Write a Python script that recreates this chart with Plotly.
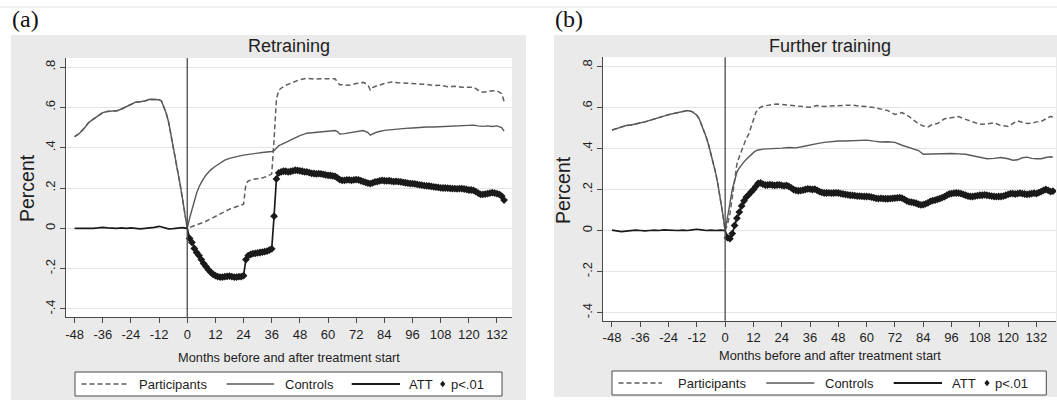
import plotly.graph_objects as go

W, H = 1057, 401

# ---------------- data ----------------
TICK_MONTHS = [-48, -36, -24, -12, 0, 12, 24, 36, 48, 60, 72, 84, 96, 108, 120, 132]
TICK_LABELS = ["-48", "-36", "-24", "-12", "0", "12", "24", "36", "48", "60", "72", "84",
               "96", "108", "120", "132"]
Y_TICKS = [-0.4, -0.2, 0, 0.2, 0.4, 0.6, 0.8]
Y_TICK_LABELS = ["-.4", "-.2", "0", ".2", ".4", ".6", ".8"]
PANEL_TITLES = ["Retraining", "Further training"]
PANEL_TAGS = ["(a)", "(b)"]
LEGEND_LABELS = ["Participants", "Controls", "ATT", "p<.01"]
X_TITLE = "Months before and after treatment start"
Y_TITLE = "Percent"

PRE_MONTHS = [-48, -46, -44, -42, -40, -38, -36, -34, -32, -30, -28, -26, -24, -22, -20,
              -18, -16, -14, -12, -11, -10, -9, -8, -7, -6, -5, -4, -3, -2, -1, 0]
ATT_PRE_MONTHS = [-48, -46, -44, -42, -40, -38, -36, -34, -32, -30, -28, -26, -24,
                  -22, -20, -18, -16, -14, -12, -10, -8, -6, -4, -2, 0]

# Panel (a) Retraining
A_PRE_LEVEL = [0.455, 0.47, 0.495, 0.525, 0.542, 0.557, 0.574, 0.58, 0.58, 0.583, 0.592, 0.602,
               0.612, 0.626, 0.628, 0.632, 0.64, 0.64, 0.638, 0.632, 0.605, 0.572, 0.53, 0.47,
               0.415, 0.35, 0.285, 0.215, 0.145, 0.072, 0.0]
A_POST_MONTHS = [1, 2, 3, 4, 5, 6, 8, 10, 12, 14, 16, 18, 20, 22, 24, 25, 26, 28, 30, 32, 34, 36,
                 37, 38, 39, 40, 42, 44, 46, 48, 51, 54, 57, 60, 63, 64, 65, 67, 69, 72, 75, 77,
                 78, 79, 81, 84, 87, 90, 93, 96, 99, 102, 105, 108, 111, 114, 117, 120, 122, 124,
                 126, 128, 130, 132, 134, 135]
A_PART_POST = [0.004, 0.008, 0.012, 0.016, 0.02, 0.025, 0.035, 0.047, 0.06, 0.07, 0.082, 0.095,
               0.103, 0.11, 0.12, 0.22, 0.235, 0.243, 0.245, 0.25, 0.258, 0.27,
               0.44, 0.64, 0.685, 0.695, 0.71, 0.72, 0.73, 0.738, 0.745, 0.74, 0.742, 0.743, 0.742,
               0.725, 0.712, 0.712, 0.71, 0.718, 0.724, 0.712, 0.686, 0.698,
               0.708, 0.718, 0.726, 0.722, 0.72, 0.72, 0.716, 0.714, 0.708, 0.71, 0.702, 0.705,
               0.7, 0.702, 0.7, 0.685, 0.675, 0.678, 0.682, 0.682, 0.668, 0.63]
A_CTRL_POST = [0.05, 0.095, 0.135, 0.175, 0.205, 0.228, 0.265, 0.29, 0.308, 0.325, 0.338, 0.347,
               0.354, 0.358, 0.363, 0.365, 0.368, 0.37, 0.373, 0.376, 0.378, 0.381,
               0.385, 0.398, 0.41, 0.415, 0.427, 0.44, 0.452, 0.46, 0.472, 0.476, 0.48, 0.482, 0.485,
               0.48, 0.468, 0.47, 0.474, 0.478, 0.485, 0.475, 0.462, 0.468,
               0.478, 0.486, 0.49, 0.492, 0.496, 0.498, 0.502, 0.503, 0.503, 0.505, 0.506, 0.507,
               0.508, 0.51, 0.512, 0.508, 0.506, 0.508, 0.505, 0.508, 0.5, 0.482]
A_ATT_PRE = [0.0, 0.0, -0.002, -0.003, 0.0, 0.002, 0.005, 0.002, 0.0, 0.0, 0.002, 0.0, 0.002,
             0.0, -0.003, 0.0, 0.002, 0.005, 0.01, 0.003, -0.003, -0.002, 0.0, 0.003, 0.0]
A_ATT_POST = [  # months 1..135
    -0.05, -0.07, -0.10, -0.12, -0.135, -0.155, -0.175, -0.19, -0.205, -0.218,
    -0.228, -0.235, -0.24, -0.242, -0.242, -0.24, -0.238, -0.237, -0.24, -0.242,
    -0.242, -0.24, -0.24, -0.235, -0.155, -0.135, -0.13, -0.126, -0.124, -0.122,
    -0.12, -0.118, -0.116, -0.113, -0.108, -0.102, 0.06, 0.245, 0.275, 0.28,
    0.283, 0.283, 0.28, 0.282, 0.285, 0.288, 0.287, 0.285, 0.283, 0.28,
    0.28, 0.276, 0.273, 0.272, 0.27, 0.271, 0.27, 0.268, 0.265, 0.263,
    0.262, 0.26, 0.258, 0.25, 0.242, 0.238, 0.238, 0.24, 0.24, 0.238,
    0.24, 0.242, 0.24, 0.236, 0.232, 0.228, 0.224, 0.222, 0.225, 0.23,
    0.232, 0.235, 0.238, 0.236, 0.235, 0.236, 0.234, 0.232, 0.233, 0.232,
    0.23, 0.228, 0.226, 0.224, 0.222, 0.222, 0.22, 0.218, 0.216, 0.214,
    0.212, 0.211, 0.21, 0.208, 0.206, 0.204, 0.203, 0.201, 0.2, 0.2,
    0.199, 0.198, 0.197, 0.197, 0.196, 0.197, 0.197, 0.195, 0.193, 0.19,
    0.19, 0.188, 0.182, 0.175, 0.168, 0.168, 0.17, 0.172, 0.175, 0.177,
    0.175, 0.172, 0.168, 0.16, 0.14]
A_SIG_FIRST, A_SIG_LAST = 1, 135

# Panel (b) Further training
B_PRE_LEVEL = [0.49, 0.497, 0.505, 0.512, 0.515, 0.519, 0.523, 0.53, 0.537, 0.545, 0.552, 0.558,
               0.565, 0.57, 0.576, 0.581, 0.585, 0.58, 0.562, 0.545, 0.518, 0.49, 0.455, 0.417,
               0.375, 0.333, 0.28, 0.22, 0.158, 0.08, 0.0]
B_POST_MONTHS = [1, 2, 3, 4, 5, 6, 7, 8, 9, 10, 11, 12, 13, 14, 16, 18, 20, 22, 24, 27, 30, 33,
                 36, 39, 42, 45, 48, 51, 54, 57, 60, 63, 66, 69, 72, 75, 78, 80, 82, 84, 86, 88,
                 90, 93, 96, 99, 102, 105, 108, 111, 114, 117, 120, 122, 124, 126, 128, 130, 132,
                 134, 136, 138, 139]
B_PART_POST = [0.03, 0.08, 0.16, 0.25, 0.325, 0.36, 0.39, 0.425, 0.45, 0.47, 0.5, 0.54, 0.575, 0.595,
               0.606, 0.612, 0.615, 0.617, 0.615,
               0.612, 0.606, 0.603, 0.601, 0.61, 0.605, 0.608, 0.61,
               0.612, 0.612, 0.606, 0.605, 0.6, 0.593, 0.585, 0.566, 0.575, 0.556,
               0.536, 0.52, 0.51, 0.505, 0.518, 0.522,
               0.545, 0.55, 0.556, 0.542, 0.53, 0.518, 0.52, 0.525, 0.512, 0.508,
               0.522, 0.535, 0.528, 0.522, 0.524, 0.53, 0.532, 0.545, 0.557, 0.552]
B_CTRL_POST = [0.06, 0.13, 0.2, 0.25, 0.285, 0.305, 0.322, 0.335, 0.348, 0.36, 0.37, 0.38, 0.388, 0.393,
               0.397, 0.398, 0.397, 0.398, 0.402,
               0.405, 0.403, 0.41, 0.418, 0.424, 0.43, 0.435, 0.437,
               0.437, 0.438, 0.44, 0.441, 0.436, 0.432, 0.433, 0.43, 0.416, 0.405,
               0.4, 0.39, 0.372, 0.373, 0.375, 0.376,
               0.378, 0.376, 0.374, 0.372, 0.365, 0.358, 0.35, 0.352, 0.356, 0.35,
               0.343, 0.345, 0.355, 0.358, 0.352, 0.35, 0.35, 0.356, 0.36, 0.358]
B_ATT_PRE = [0.002, 0.0, -0.005, -0.003, 0.0, 0.002, 0.0, -0.002, 0.0, 0.002, 0.0, 0.003, 0.002,
             0.0, 0.0, 0.002, 0.0, 0.003, 0.006, 0.003, 0.0, 0.002, 0.0, 0.002, 0.0]
B_ATT_POST = [  # months 1..139
    -0.035, -0.04, -0.015, 0.025, 0.06, 0.09, 0.12, 0.145, 0.163, 0.175,
    0.188, 0.2, 0.215, 0.23, 0.232, 0.226, 0.222, 0.222, 0.224, 0.222,
    0.22, 0.222, 0.223, 0.22, 0.218, 0.22, 0.215, 0.208, 0.2, 0.196,
    0.194, 0.195, 0.197, 0.2, 0.203, 0.202, 0.2, 0.202, 0.196, 0.19,
    0.186, 0.183, 0.183, 0.184, 0.182, 0.183, 0.184, 0.183, 0.18, 0.178,
    0.176, 0.174, 0.172, 0.171, 0.17, 0.168, 0.168, 0.167, 0.166, 0.166,
    0.165, 0.163, 0.16, 0.157, 0.156, 0.157, 0.156, 0.155, 0.155, 0.156,
    0.157, 0.158, 0.159, 0.16, 0.158, 0.152, 0.145, 0.14, 0.138, 0.136,
    0.133, 0.128, 0.125, 0.126, 0.13, 0.135, 0.142, 0.146, 0.148, 0.152,
    0.156, 0.16, 0.165, 0.172, 0.178, 0.18, 0.182, 0.183, 0.182, 0.18,
    0.176, 0.172, 0.168, 0.166, 0.166, 0.168, 0.17, 0.172, 0.172, 0.174,
    0.172, 0.17, 0.168, 0.166, 0.165, 0.166, 0.166, 0.168, 0.172, 0.176,
    0.18, 0.18, 0.178, 0.18, 0.182, 0.18, 0.178, 0.176, 0.178, 0.18,
    0.182, 0.18, 0.185, 0.19, 0.196, 0.2, 0.196, 0.19, 0.192]
B_SIG_FIRST, B_SIG_LAST = 1, 139

# ---------------- styling / geometry ----------------
FONT = "Liberation Sans, Arial, Helvetica, sans-serif"
SERIF = "Liberation Serif, Times New Roman, serif"
BG_GRAY = "#eaeaea"
GRID = "#e4e4e4"
AXIS = "#4a4a4a"
TXT = "#1e1e1e"
PART_COLOR = "#5f5f5f"
CTRL_COLOR = "#595959"
ATT_COLOR = "#1a1a1a"

PANELS = [
    dict(gray=(11, 35, 526, 400), plot=(65.7, 58, 512, 317), xr=(-51.8, 138.4),
         title_y=46, tag=(10, 19), xt_y=357, yt=(27, 188),
         box=(75, 372, 502, 396),
         items=[(81.5, 128.5, 136.7), (226.7, 274, 282.7), (351.7, 400, 407), (442.7, None, 448.5)]),
    dict(gray=(554, 35, 1060, 397), plot=(603, 57.3, 1056, 320.7), xr=(-51.8, 140.3),
         title_y=46, tag=(553, 19), xt_y=355, yt=(563, 190),
         box=(612, 371, 1046.3, 395),
         items=[(618.5, 662, 676), (766.3, 814.3, 823), (893.7, 942, 949.7), (987, None, 992.5)]),
]
Y_RANGE = (-0.44, 0.845)


def fx(x):
    return x / W


def fy(y):
    return 1 - y / H


fig = go.Figure()
shapes = []
annotations = []

# faint rule at the very top
shapes.append(dict(type="line", xref="paper", yref="paper", x0=0, x1=1, y0=fy(7), y1=fy(7),
                   line=dict(color="#e2e2e2", width=1), layer="below"))

datasets = [
    (A_PRE_LEVEL, A_POST_MONTHS, A_PART_POST, A_CTRL_POST, A_ATT_PRE, A_ATT_POST, A_SIG_FIRST, A_SIG_LAST),
    (B_PRE_LEVEL, B_POST_MONTHS, B_PART_POST, B_CTRL_POST, B_ATT_PRE, B_ATT_POST, B_SIG_FIRST, B_SIG_LAST),
]

for i, (g, d) in enumerate(zip(PANELS, datasets)):
    pre_level, post_m, part_post, ctrl_post, att_pre, att_post, s0, s1 = d
    sfx = "" if i == 0 else str(i + 1)
    xa, ya = "x" + sfx, "y" + sfx

    gx0, gy0, gx1, gy1 = g["gray"]
    shapes.append(dict(type="rect", xref="paper", yref="paper", x0=fx(gx0), x1=fx(gx1),
                       y0=fy(gy1), y1=fy(gy0), fillcolor=BG_GRAY, line=dict(width=0), layer="below"))
    px0, py0, px1, py1 = g["plot"]
    shapes.append(dict(type="rect", xref="paper", yref="paper", x0=fx(px0), x1=fx(px1),
                       y0=fy(py1), y1=fy(py0), fillcolor="white", line=dict(width=0), layer="below"))

    # traces
    att_post_m = list(range(1, len(att_post) + 1))
    fig.add_trace(go.Scatter(x=PRE_MONTHS + post_m, y=pre_level + part_post, mode="lines",
                             line=dict(color=PART_COLOR, width=1.5, dash="5px,3px"),
                             xaxis=xa, yaxis=ya, showlegend=False, hoverinfo="skip"))
    fig.add_trace(go.Scatter(x=PRE_MONTHS + post_m, y=pre_level + ctrl_post, mode="lines",
                             line=dict(color=CTRL_COLOR, width=1.4),
                             xaxis=xa, yaxis=ya, showlegend=False, hoverinfo="skip"))
    fig.add_trace(go.Scatter(x=ATT_PRE_MONTHS + att_post_m, y=att_pre + att_post, mode="lines",
                             line=dict(color=ATT_COLOR, width=1.7),
                             xaxis=xa, yaxis=ya, showlegend=False, hoverinfo="skip"))
    sig_x = [m for m in att_post_m if s0 <= m <= s1]
    sig_y = [att_post[m - 1] for m in sig_x]
    fig.add_trace(go.Scatter(x=sig_x, y=sig_y, mode="markers",
                             marker=dict(symbol="diamond", size=6, color=ATT_COLOR, line=dict(width=0)),
                             xaxis=xa, yaxis=ya, showlegend=False, hoverinfo="skip"))

    # reference line at month 0
    shapes.append(dict(type="line", xref=xa, yref=ya + " domain", x0=0, x1=0, y0=0, y1=1,
                       line=dict(color=AXIS, width=1.3)))

    fig.update_layout(**{
        "xaxis" + sfx: dict(domain=[fx(px0), fx(px1)], range=list(g["xr"]), anchor=ya,
                            tickvals=TICK_MONTHS, ticktext=TICK_LABELS, ticks="outside",
                            ticklen=5, tickwidth=1,
                            tickcolor=AXIS, showline=True, linecolor=AXIS, linewidth=1,
                            showgrid=False, zeroline=False, fixedrange=True,
                            tickfont=dict(family=FONT, size=13, color=TXT)),
        "yaxis" + sfx: dict(domain=[fy(py1), fy(py0)], range=list(Y_RANGE), anchor=xa,
                            tickvals=Y_TICKS, ticktext=Y_TICK_LABELS, tickangle=-90,
                            ticks="outside", ticklen=5, tickwidth=1, tickcolor=AXIS,
                            showline=True, linecolor=AXIS, linewidth=1,
                            showgrid=True, gridcolor=GRID, gridwidth=1, zeroline=False,
                            fixedrange=True, tickfont=dict(family=FONT, size=13, color=TXT)),
    })

    # texts
    annotations.append(dict(xref="paper", yref="paper", x=fx((px0 + px1) / 2), y=fy(g["title_y"]),
                            text=PANEL_TITLES[i], showarrow=False, xanchor="center", yanchor="middle",
                            font=dict(family=FONT, size=18, color=TXT)))
    annotations.append(dict(xref="paper", yref="paper", x=fx(g["tag"][0]), y=fy(g["tag"][1]),
                            text=PANEL_TAGS[i], showarrow=False, xanchor="left", yanchor="middle",
                            font=dict(family=SERIF, size=24, color="#111")))
    annotations.append(dict(xref="paper", yref="paper", x=fx((px0 + px1) / 2), y=fy(g["xt_y"]),
                            text=X_TITLE, showarrow=False, xanchor="center", yanchor="middle",
                            font=dict(family=FONT, size=12.8, color=TXT)))
    annotations.append(dict(xref="paper", yref="paper", x=fx(g["yt"][0]), y=fy(g["yt"][1]),
                            text=Y_TITLE, showarrow=False, xanchor="center", yanchor="middle",
                            textangle=-90, font=dict(family=FONT, size=19.5, color=TXT)))

    # legend box
    bx0, by0, bx1, by1 = g["box"]
    shapes.append(dict(type="rect", xref="paper", yref="paper", x0=fx(bx0), x1=fx(bx1),
                       y0=fy(by1), y1=fy(by0), fillcolor="white",
                       line=dict(color=AXIS, width=1)))
    ly = (by0 + by1) / 2
    styles = [dict(color=PART_COLOR, width=1.5, dash="5px,3px"),
              dict(color=CTRL_COLOR, width=1.4),
              dict(color=ATT_COLOR, width=2)]
    for j, (a0, a1, tx) in enumerate(g["items"]):
        if a1 is not None:
            shapes.append(dict(type="line", xref="paper", yref="paper", x0=fx(a0), x1=fx(a1),
                               y0=fy(ly), y1=fy(ly), line=styles[j]))
        else:
            dx, dy = 2.6, 3.3
            path = (f"M {fx(a0)},{fy(ly - dy)} L {fx(a0 + dx)},{fy(ly)} "
                    f"L {fx(a0)},{fy(ly + dy)} L {fx(a0 - dx)},{fy(ly)} Z")
            shapes.append(dict(type="path", xref="paper", yref="paper", path=path,
                               fillcolor=ATT_COLOR, line=dict(width=0)))
        annotations.append(dict(xref="paper", yref="paper", x=fx(tx), y=fy(ly),
                                text=LEGEND_LABELS[j], showarrow=False, xanchor="left",
                                yanchor="middle", font=dict(family=FONT, size=13, color=TXT)))

fig.update_layout(width=W, height=H, margin=dict(l=0, r=0, t=0, b=0),
                  paper_bgcolor="white", plot_bgcolor="rgba(0,0,0,0)",
                  shapes=shapes, annotations=annotations, showlegend=False,
                  font=dict(family=FONT, color=TXT))

fig.write_html("out.html",
               config={"displayModeBar": False, "staticPlot": True},
               post_script="document.body.style.margin='0';document.body.style.padding='0';"
                           "document.body.style.overflow='hidden';")
